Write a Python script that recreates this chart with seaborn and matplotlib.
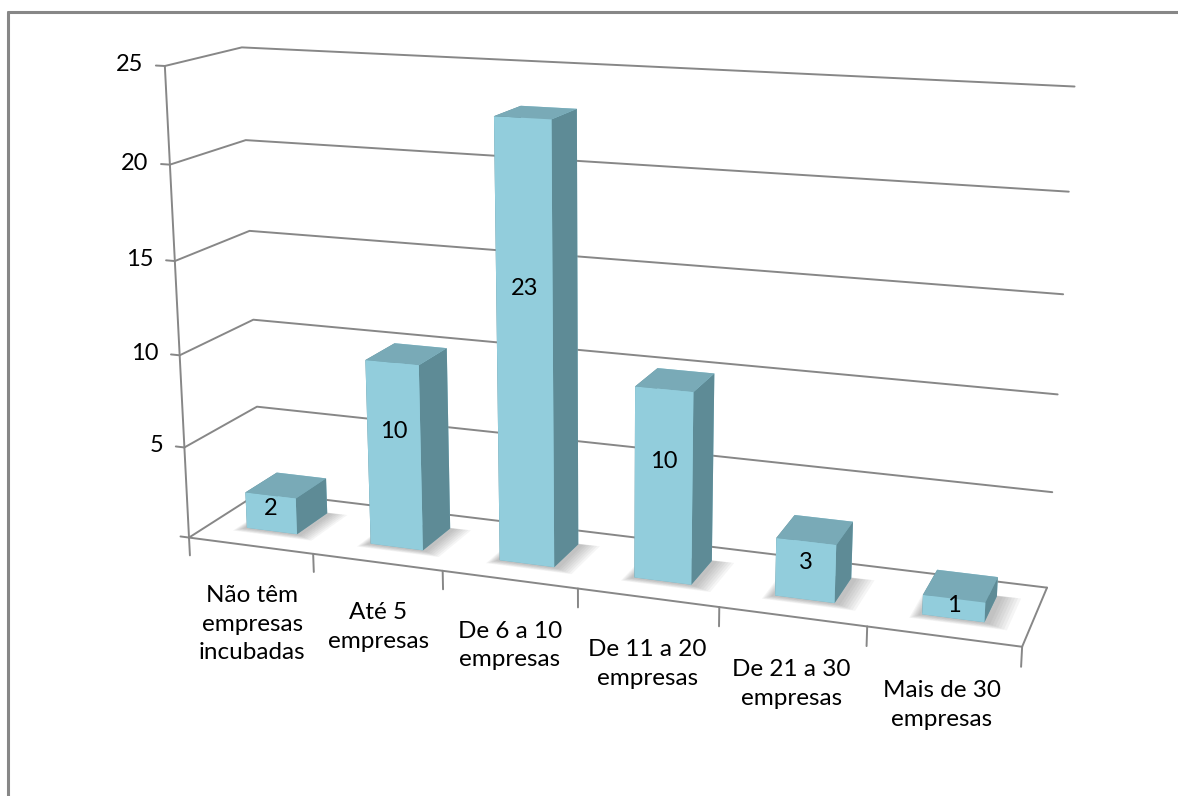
import matplotlib
matplotlib.use("Agg")
import matplotlib.pyplot as plt
import seaborn as sns
from matplotlib.lines import Line2D
from mpl_toolkits.mplot3d import proj3d
from mpl_toolkits.mplot3d.art3d import Poly3DCollection

# Incubated companies per incubator
categories = [
    "Não têm\nempresas\nincubadas",
    "Até 5\nempresas",
    "De 6 a 10\nempresas",
    "De 11 a 20\nempresas",
    "De 21 a 30\nempresas",
    "Mais de 30\nempresas",
]
counts = [2, 10, 23, 10, 3, 1]
z_ticks = [0, 5, 10, 15, 20, 25]
z_tick_labels = ["", "5", "10", "15", "20", "25"]

sns.set_theme(style="white")
plt.rcParams["font.family"] = ["Lato", "DejaVu Sans"]

front_c = "#92CDDC"
side_c = "#5E8B96"
top_c = "#79AAB7"
line_c = "#878787"

W, H = 1178, 796
fig = plt.figure(figsize=(W / 100, H / 100), dpi=100)
ax = fig.add_axes([0.004, 0.077, 1.0, 1.0], projection="3d",
                  computed_zorder=False)
ax.set_axis_off()

n = len(categories)
x0, x1 = -0.5, n - 0.5
y0, y1 = 0.0, 1.0
zmax = z_ticks[-1]

ax.set_xlim(x0, x1)
ax.set_ylim(y0, y1)
ax.set_zlim(0, zmax)
ax.set_box_aspect((1.0, 0.18, 0.57), zoom=1.25)
ax.set_proj_type("persp", focal_length=0.5)
ax.view_init(elev=14.5, azim=-70.5)

lw = 1.4
line_kw = dict(color=line_c, lw=lw, zorder=1, clip_on=False)
# floor outline
ax.plot([x0, x1], [y0, y0], [0, 0], **line_kw)
ax.plot([x1, x1], [y0, y1], [0, 0], **line_kw)
# vertical value axis
ax.plot([x0, x0], [y0, y0], [0, zmax], **line_kw)
# gridlines on the side wall and the back wall, with the axis ticks
for z in z_ticks:
    ax.plot([x0, x0, x1], [y0, y1, y1], [z, z, z], **line_kw)
    ax.plot([x0 - 0.07, x0], [y0, y0], [z, z], **line_kw)
# category ticks along the front edge
for k in range(n + 1):
    xb = x0 + k
    ax.plot([xb, xb], [y0, y0], [0, -1.0], **line_kw)

# bars
bw, by, bd = 0.41, 0.3, 0.45
xs = [i - bw / 2 for i in range(n)]

# soft floor shadow at the foot of each bar, from stacked translucent layers
shadow_polys = []
for xl in xs:
    for j in range(7):
        e = 0.02 * j
        xa, xb_ = xl - 0.02 - 0.4 * e, xl + bw + 0.04 + e
        ya, yb = by - 0.02 - 0.5 * e, by + bd + 0.1 * e
        shadow_polys.append([(xa, ya, 0), (xb_, ya, 0), (xb_, yb, 0), (xa, yb, 0)])
shadows = Poly3DCollection(shadow_polys, facecolors=(0.3, 0.3, 0.3, 0.055),
                           edgecolors="none", zorder=1.5)
ax.add_collection3d(shadows)
shadows.set_clip_on(False)

face_colors = []
for _ in counts:
    # bottom, top, front, back, left, right
    face_colors += [top_c, top_c, front_c, front_c, side_c, side_c]
bars = ax.bar3d(xs, [by] * n, [0] * n, [bw] * n, [bd] * n, counts,
                color=face_colors, shade=False, edgecolor="none", linewidth=0,
                zorder=2)
bars.set_clip_on(False)

# texts are placed at the projected position of their 3D anchor
fig.canvas.draw()
M = ax.get_proj()


def place(x, y, z, s, **kw):
    px, py, _ = proj3d.proj_transform(x, y, z, M)
    dx, dy = ax.transData.transform((px, py))
    fig.text(dx / W, dy / H, s, **kw)


for z, lab in zip(z_ticks, z_tick_labels):
    if lab:
        place(x0 - 0.17, y0, z, lab, ha="right", va="center", fontsize=17,
              color="black")
for i, lab in enumerate(categories):
    place(i, y0, -2.2, lab, ha="center", va="top", fontsize=17.5,
          linespacing=1.45, color="black")
for i, v in enumerate(counts):
    place(i, by, v * 0.63, str(v), ha="center", va="center", fontsize=17,
          color="black")

# chart frame
fig.add_artist(Line2D([8 / W, 8 / W], [0, 1 - 12 / H],
                      transform=fig.transFigure, color=line_c, lw=2.2))
fig.add_artist(Line2D([8 / W, 1], [1 - 12 / H, 1 - 12 / H],
                      transform=fig.transFigure, color=line_c, lw=2.2))

fig.savefig("out.png", dpi=100)
